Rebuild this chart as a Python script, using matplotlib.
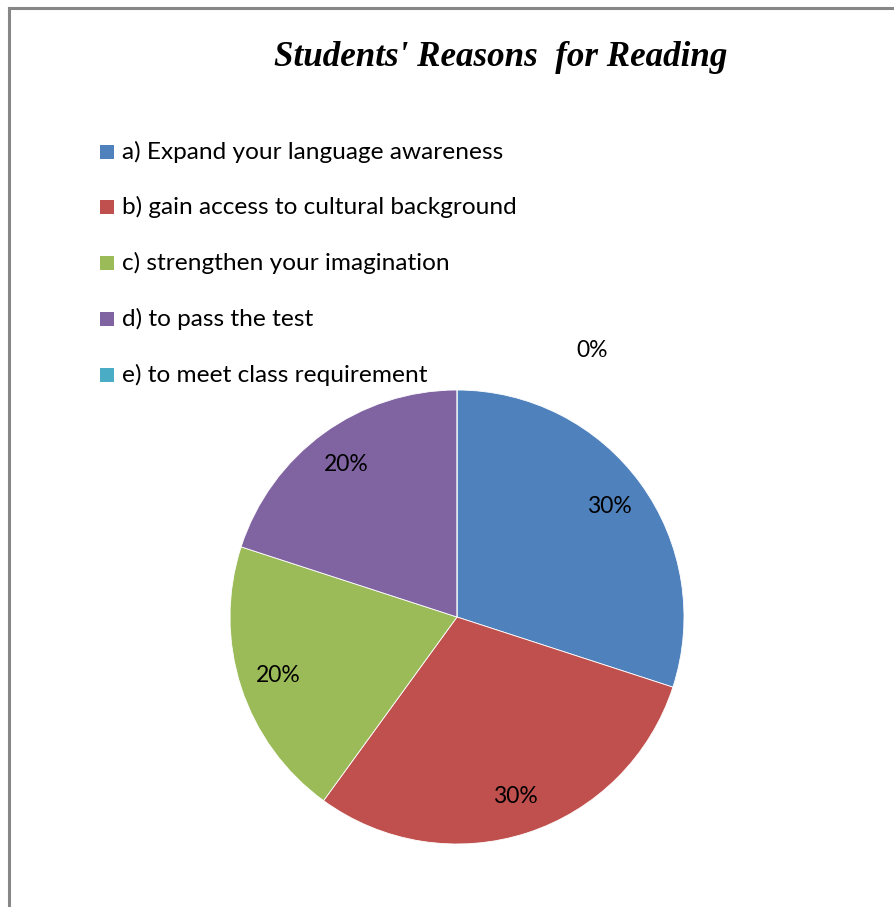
import matplotlib.pyplot as plt
from matplotlib.patches import Rectangle
from matplotlib.lines import Line2D

plt.rcParams['font.family'] = ['Lato', 'DejaVu Sans']

# data
categories = ['a) Expand your language awareness',
              'b) gain access to cultural background',
              'c) strengthen your imagination',
              'd) to pass the test',
              'e) to meet class requirement']
values = [30, 30, 20, 20, 0]
colors = ['#4F81BD', '#C0504D', '#9BBB59', '#8064A2', '#4BACC6']

W, H = 894, 907
fig = plt.figure(figsize=(W / 100, H / 100), dpi=100)

# chart frame (left and top edges visible)
fig.add_artist(Line2D([8.5 / W, 8.5 / W], [0, 1 - 7.5 / H], color='#878787', lw=2.2))
fig.add_artist(Line2D([8.5 / W, 1], [1 - 7.5 / H, 1 - 7.5 / H], color='#878787', lw=2.2))

# title
fig.text(501 / W, 1 - 58 / H, "Students' Reasons  for Reading", ha='center', va='center',
         family='Liberation Serif', fontweight='bold', fontstyle='italic', fontsize=25.2)

# pie
cx, cy, r = 457, 617, 227
ax = fig.add_axes([(cx - r) / W, 1 - (cy + r) / H, 2 * r / W, 2 * r / H])
wedges, texts, autotexts = ax.pie(values, colors=colors, startangle=90, counterclock=False,
                                  autopct='%1.0f%%', pctdistance=0.83,
                                  wedgeprops=dict(edgecolor='white', linewidth=0.6),
                                  textprops=dict(fontsize=16.5, color='black'))
ax.set_aspect('equal')
ax.set_xlim(-1, 1)
ax.set_ylim(-1, 1)
# zero slice label sits outside the pie
autotexts[-1].set_position((0.595, 1.175))
autotexts[-1].set_clip_on(False)

# legend
rows_y = [152, 207, 263, 319, 375]
for lab, col, y in zip(categories, colors, rows_y):
    fig.add_artist(Rectangle(((100) / W, 1 - (y + 7) / H), 14 / W, 14 / H,
                             facecolor=col, edgecolor='none', transform=fig.transFigure))
    fig.text(122 / W, 1 - y / H, lab, ha='left', va='center', fontsize=17.6)

fig.savefig('out.png', dpi=100)
